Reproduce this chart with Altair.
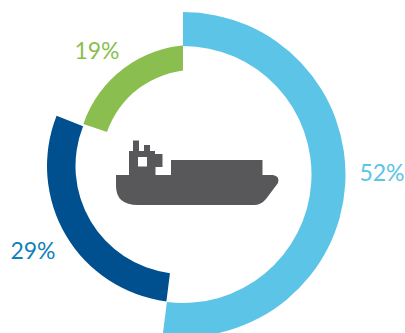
import math
import altair as alt
import pandas as pd

# Cargo shares by segment, in percent, and how each ring segment is presented
segments = ["Green", "Dark", "Light"]
shares = [19, 29, 52]
labels = ["52%", "29%", "19%"]
ring_colors = ["#8abf50", "#00508f", "#5cc4e6"]
label_colors = ["#5cc4e6", "#0f82b8", "#8abf50"]

# Each segment sits on its own offset ring: centre, radii, start angle in degrees
centers = [(194, 162), (183.5, 166), (183, 174.5)]
radii = [(117, 92), (136.5, 108), (162.5, 128.5)]
starts = [289, 187.2, 0]
label_pos = [(382, 174), (33, 252), (97, 52)]

SHIP = (
    "M116 175 L129 175 L129 151 L133 151 L133 140.5 L139 140.5 L139 151 L144 151 "
    "L144 145 L150 145 L150 151 L155 151 L155 154 L162.5 154 L162.5 167 L155.5 167 "
    "L155.5 175 L171 175 L171 160 L262.5 160 L262.5 175 L273 175 "
    "Q280 176 278 183 L266 199 Q261 205 254 205 L138 205 Q116 205 116 186 Z "
    "M138 157 L138 166.5 L147 166.5 L147 157 Z"
)


def ring_segment(name, share, color, center, radius, start):
    a0 = math.radians(start)
    a1 = a0 + share / 100 * 2 * math.pi
    frame = pd.DataFrame({"segment": [name], "a0": [a0], "a1": [a1]})
    return (
        alt.Chart(frame)
        .mark_arc(radius=radius[0], radius2=radius[1], color=color)
        .encode(
            theta=alt.Theta("a0:Q", scale=None),
            theta2=alt.Theta2("a1:Q"),
            x=alt.value(center[0]),
            y=alt.value(center[1]),
        )
    )


arcs = [
    ring_segment(*row)
    for row in zip(segments, shares, ring_colors, centers, radii, starts)
]

# Squares off the green segment's upper end along the vertical axis
trim = (
    alt.Chart(pd.DataFrame({"part": ["trim"]}))
    .mark_rect(color="white")
    .encode(x=alt.value(183), x2=alt.value(200), y=alt.value(44), y2=alt.value(80))
)

layers = [arcs[0], trim, arcs[1], arcs[2]]

for text, color, (tx, ty) in zip(labels, label_colors, label_pos):
    layers.append(
        alt.Chart(pd.DataFrame({"label": [text]}))
        .mark_text(font="Lato", fontSize=23, fontWeight=400, color=color,
                   align="center", baseline="middle")
        .encode(text="label:N", x=alt.value(tx), y=alt.value(ty))
    )

ship = (
    alt.Chart(pd.DataFrame({"icon": ["ship"]}))
    .mark_point(shape=SHIP, size=4, filled=True, color="#58585a", opacity=1)
    .encode(x=alt.value(0), y=alt.value(0))
)
layers.append(ship)

chart = (
    alt.layer(*layers)
    .properties(width=405, height=333, padding=0, autosize=alt.AutoSizeParams(type="none"))
    .configure_view(stroke=None)
)
chart.save("out.html", embed_options={"renderer": "svg", "actions": False})
